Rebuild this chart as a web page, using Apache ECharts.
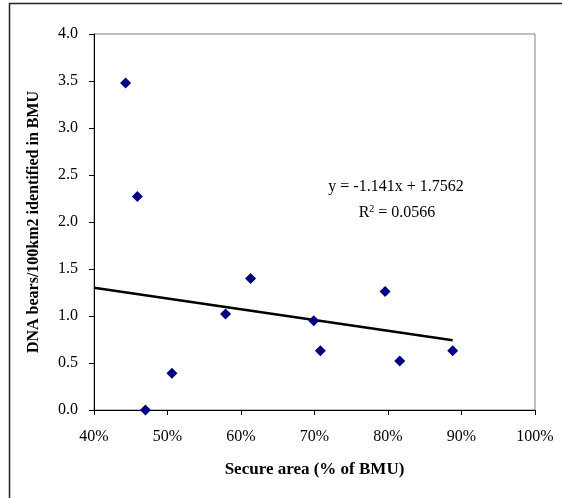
<!doctype html>
<html>
<head>
    <title>Secure area vs DNA bears</title>
    <meta http-equiv="Content-Type" content="text/html; charset=utf-8"/>
    <script type="text/javascript" src="https://cdn.jsdelivr.net/npm/echarts@6/dist/echarts.min.js"></script>
    <style>
        html, body { margin: 0; padding: 0; background: #fff; }
    </style>
</head>
<body>
<div id="main" style="width:562px;height:498px;"></div>
<script>
// secure area (fraction of BMU) and DNA bears per 100 km2
var secureArea = [0.443, 0.459, 0.470, 0.506, 0.579, 0.613, 0.699, 0.708, 0.796, 0.816, 0.888];
var bearDensity = [3.48, 2.27, 0.00, 0.39, 1.02, 1.40, 0.95, 0.63, 1.26, 0.52, 0.63];
// linear trend from the workbook
var trendSlope = -1.141;
var trendIntercept = 1.7562;
var trendX = [0.40, 0.888];
var equationText = 'y = -1.141x + 1.7562';
var r2Text = '0.0566';

var points = secureArea.map(function (x, i) { return [x, bearDensity[i]]; });
var trendPoints = trendX.map(function (x) { return [x, trendSlope * x + trendIntercept]; });

var serif = 'Liberation Serif';
var myChart = echarts.init(document.getElementById('main'));

var option = {
    animation: false,
    backgroundColor: '#fff',
    grid: {
        left: 94, top: 34, right: 27, bottom: 88,
        show: true, borderColor: '#808080', borderWidth: 1
    },
    xAxis: {
        type: 'value',
        min: 0.4, max: 1.0, interval: 0.1,
        name: 'Secure area (% of BMU)',
        nameLocation: 'middle',
        nameGap: 51,
        nameTextStyle: { fontFamily: serif, fontWeight: 'bold', fontSize: 17, color: '#000' },
        axisLine: { lineStyle: { color: '#000', width: 1 } },
        axisTick: { inside: false, length: 5, lineStyle: { color: '#000' } },
        splitLine: { show: false },
        axisLabel: {
            fontFamily: serif, fontSize: 16, color: '#000', margin: 19,
            formatter: function (v) { return Math.round(v * 100) + '%'; }
        }
    },
    yAxis: {
        type: 'value',
        min: 0, max: 4, interval: 0.5,
        name: 'DNA bears/100km2 identified in BMU',
        nameLocation: 'middle',
        nameGap: 52,
        nameTextStyle: { fontFamily: serif, fontWeight: 'bold', fontSize: 16, color: '#000' },
        axisLine: { show: true, lineStyle: { color: '#000', width: 1 } },
        axisTick: { show: true, inside: false, length: 5, lineStyle: { color: '#000' } },
        splitLine: { show: false },
        axisLabel: {
            fontFamily: serif, fontSize: 16, color: '#000', margin: 16,
            formatter: function (v) { return v.toFixed(1); }
        }
    },
    series: [
        {
            type: 'line',
            data: trendPoints,
            symbol: 'none',
            lineStyle: { color: '#000', width: 2.5 },
            z: 2
        },
        {
            type: 'scatter',
            data: points,
            symbol: 'diamond',
            symbolSize: 11,
            itemStyle: { color: '#000080', opacity: 1 },
            z: 3
        }
    ],
    graphic: [
        {
            type: 'rect',
            shape: { x: 9.5, y: 3.5, width: 600, height: 600 },
            style: { fill: 'none', stroke: '#222', lineWidth: 1.5 },
            silent: true
        },
        {
            type: 'text',
            x: 396, y: 187,
            style: {
                text: equationText,
                fontFamily: serif, fontSize: 16, fill: '#000',
                align: 'center', verticalAlign: 'middle'
            }
        },
        {
            type: 'text',
            x: 397, y: 213,
            style: {
                text: '{n|R}{s|2}{n| = ' + r2Text + '}',
                align: 'center', verticalAlign: 'middle',
                rich: {
                    n: { fontFamily: serif, fontSize: 16, fill: '#000', color: '#000' },
                    s: { fontFamily: serif, fontSize: 10, fill: '#000', color: '#000', verticalAlign: 'top', padding: [0, 0, 8, 0] }
                }
            }
        }
    ]
};

myChart.setOption(option);
</script>
</body>
</html>
